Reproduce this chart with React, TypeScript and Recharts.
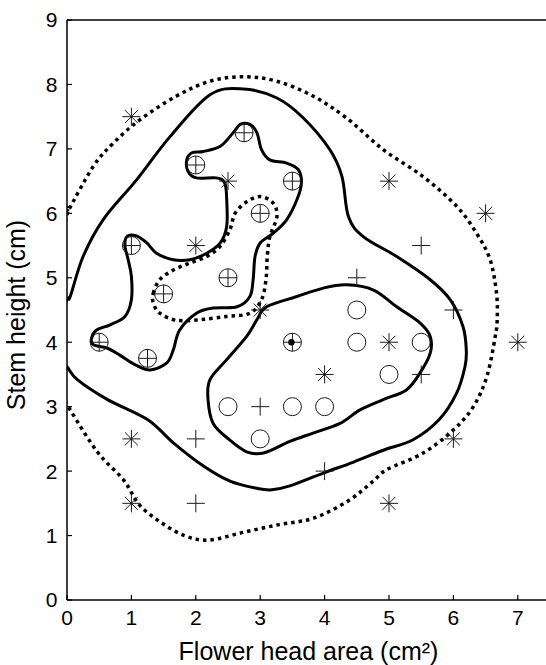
import { ComposedChart, Label, Line, Scatter, XAxis, YAxis } from "recharts";

type Pair = [number, number];

const FONT = "'Liberation Sans', Arial, Helvetica, sans-serif";
const INK = "#1a1a1a";

const xTicks = [0, 1, 2, 3, 4, 5, 6, 7];
const yTicks = [0, 1, 2, 3, 4, 5, 6, 7, 8, 9];

// samples, by marker type (flower head area, stem height)
const circlePlusPts: Pair[] = [
  [0.5, 4], [1, 5.5], [1.25, 3.75], [1.5, 4.75], [2, 6.75],
  [2.75, 7.25], [2.5, 5], [3, 6], [3.5, 6.5], [3.5, 4],
];
const circlePts: Pair[] = [
  [4.5, 4.5], [4.5, 4], [5.5, 4], [5, 3.5], [2.5, 3], [3.5, 3], [4, 3], [3, 2.5],
];
const plusPts: Pair[] = [
  [2, 2.5], [2, 1.5], [3, 3], [4, 2], [4.5, 5], [5.5, 3.5], [6, 4.5], [5.5, 5.5],
];
const starPts: Pair[] = [
  [1, 7.5], [2.5, 6.5], [5, 6.5], [6.5, 6], [2, 5.5], [3, 4.5], [7, 4],
  [5, 4], [4, 3.5], [6, 2.5], [1, 2.5], [1, 1.5], [5, 1.5],
];
const queryPts: Pair[] = [[3.5, 4]];

// contour outlines (traced); the two big ones run past the left edge and get clipped
const outerDotted: Pair[] = [
  [-0.35, 4.5], [0, 5.98], [0.03, 6.06], [0.41, 6.73], [0.72, 7.09], [1.13, 7.45],
  [1.7, 7.82], [2.22, 8.05], [2.74, 8.12], [3.26, 8.05], [3.82, 7.82], [4.34, 7.48],
  [4.91, 6.99], [5.53, 6.57], [6.05, 6.11], [6.36, 5.69], [6.57, 5.28], [6.67, 4.76],
  [6.68, 4.35], [6.65, 4.09], [6.52, 3.47], [6.31, 3.0], [6.0, 2.64], [5.53, 2.28],
  [4.96, 2.02], [4.75, 1.84], [4.37, 1.54], [3.83, 1.27], [3.29, 1.17], [2.74, 1.05],
  [2.2, 0.93], [1.82, 1.0], [1.45, 1.21], [1.12, 1.48], [0.88, 1.86], [0.47, 2.3],
  [0.03, 2.98], [-0.35, 3.6],
];
const outerSolid: Pair[] = [
  [-0.25, 4.15], [0, 4.66], [0.05, 4.71], [0.25, 5.33], [0.56, 5.9], [1.08, 6.52],
  [1.6, 7.19], [2.22, 7.84], [2.74, 7.93], [3.26, 7.79], [3.67, 7.48], [4.08, 6.99],
  [4.27, 6.57], [4.37, 5.95], [4.6, 5.64], [5.12, 5.33], [5.64, 4.97], [5.95, 4.66],
  [6.15, 4.24], [6.2, 3.88], [6.18, 3.62], [6.05, 3.21], [5.78, 2.8], [5.38, 2.49],
  [4.9, 2.32], [4.45, 2.14], [3.98, 1.97], [3.46, 1.77], [3.18, 1.71], [2.96, 1.73],
  [2.54, 1.84], [2.13, 2.07], [1.66, 2.43], [1.25, 2.8], [0.63, 3.11], [0.16, 3.42],
  [0, 3.62], [-0.25, 3.95],
];
const clusterSolid: Pair[] = [
  [0.38, 4.06], [0.46, 4.19], [0.67, 4.27], [0.9, 4.4], [1.0, 4.66], [1.0, 5.02],
  [0.95, 5.28], [0.9, 5.49], [0.93, 5.64], [1.08, 5.65], [1.24, 5.54], [1.39, 5.38],
  [1.65, 5.28], [1.91, 5.28], [2.17, 5.38], [2.38, 5.54], [2.48, 5.8], [2.48, 6.21],
  [2.45, 6.47], [2.32, 6.55], [2.01, 6.55], [1.88, 6.65], [1.86, 6.83], [1.94, 6.94],
  [2.12, 6.96], [2.38, 7.04], [2.58, 7.25], [2.69, 7.38], [2.84, 7.38], [2.95, 7.25],
  [3.02, 6.99], [3.15, 6.83], [3.41, 6.78], [3.59, 6.68], [3.64, 6.47], [3.57, 6.21],
  [3.41, 5.9], [3.2, 5.69], [3.0, 5.54], [2.92, 5.33], [2.89, 4.97], [2.84, 4.71],
  [2.64, 4.55], [2.27, 4.53], [2.01, 4.45], [1.75, 4.19], [1.65, 3.88], [1.55, 3.68],
  [1.29, 3.57], [1.06, 3.65], [0.82, 3.8], [0.62, 3.91], [0.41, 3.96],
];
const clusterDotted: Pair[] = [
  [1.34, 4.76], [1.44, 4.97], [1.65, 5.12], [1.91, 5.23], [2.17, 5.33], [2.38, 5.49],
  [2.53, 5.75], [2.61, 6.0], [2.79, 6.18], [3.0, 6.26], [3.2, 6.16], [3.26, 5.95],
  [3.15, 5.64], [3.11, 5.33], [3.09, 4.97], [3.02, 4.66], [2.84, 4.45], [2.48, 4.4],
  [2.07, 4.35], [1.7, 4.34], [1.44, 4.45], [1.34, 4.61],
];
const circleSolid: Pair[] = [
  [2.19, 3.11], [2.22, 3.42], [2.48, 3.73], [2.79, 4.09], [2.95, 4.35], [3.1, 4.55],
  [3.57, 4.71], [3.98, 4.84], [4.34, 4.89], [4.76, 4.81], [5.12, 4.55], [5.48, 4.3],
  [5.64, 4.09], [5.64, 3.83], [5.48, 3.52], [5.27, 3.26], [4.91, 3.11], [4.55, 2.95],
  [4.24, 2.74], [3.82, 2.59], [3.46, 2.46], [3.05, 2.28], [2.79, 2.3], [2.53, 2.48],
  [2.27, 2.74],
];

const toRows = (pts: Pair[]) => pts.map(([x, y]) => ({ x, y }));

// closed Catmull-Rom curve so the traced outlines pass through their points
const closedSpline = (ctx: any) => {
  let pts: number[][] = [];
  return {
    areaStart() {},
    areaEnd() {},
    lineStart() {
      pts = [];
    },
    point(x: number, y: number) {
      pts.push([+x, +y]);
    },
    lineEnd() {
      const n = pts.length;
      if (!n) return;
      ctx.moveTo(pts[0][0], pts[0][1]);
      for (let i = 0; i < n; i++) {
        const p0 = pts[(i - 1 + n) % n];
        const p1 = pts[i];
        const p2 = pts[(i + 1) % n];
        const p3 = pts[(i + 2) % n];
        ctx.bezierCurveTo(
          p1[0] + (p2[0] - p0[0]) / 6,
          p1[1] + (p2[1] - p0[1]) / 6,
          p2[0] - (p3[0] - p1[0]) / 6,
          p2[1] - (p3[1] - p1[1]) / 6,
          p2[0],
          p2[1]
        );
      }
      ctx.closePath();
    },
  };
};

const R = 9;

const CircleMark = ({ cx, cy }: any) => (
  <circle cx={cx} cy={cy} r={R} fill="none" stroke={INK} strokeWidth={1} />
);

const PlusMark = ({ cx, cy }: any) => (
  <path d={`M${cx - R},${cy}H${cx + R}M${cx},${cy - R}V${cy + R}`} stroke={INK} strokeWidth={1} fill="none" />
);

const CirclePlusMark = ({ cx, cy }: any) => (
  <g>
    <circle cx={cx} cy={cy} r={R} fill="none" stroke={INK} strokeWidth={1} />
    <path d={`M${cx - R},${cy}H${cx + R}M${cx},${cy - R}V${cy + R}`} stroke={INK} strokeWidth={1} fill="none" />
  </g>
);

const StarMark = ({ cx, cy }: any) => {
  const d = R * 0.72;
  return (
    <path
      d={`M${cx - R},${cy}H${cx + R}M${cx},${cy - R}V${cy + R}M${cx - d},${cy - d}L${cx + d},${cy + d}M${cx - d},${cy + d}L${cx + d},${cy - d}`}
      stroke={INK}
      strokeWidth={1}
      fill="none"
    />
  );
};

const QueryMark = ({ cx, cy }: any) => <circle cx={cx - 1} cy={cy} r={3.2} fill="#000" />;

const XTitle = ({ viewBox }: any) => (
  <text
    x={viewBox.x + viewBox.width / 2}
    y={viewBox.y + 60}
    textAnchor="middle"
    fontSize={25}
    fontFamily={FONT}
    fill="#000"
  >
    Flower head area (cm²)
  </text>
);

const YTitle = ({ viewBox }: any) => {
  const x = 25;
  const y = viewBox.y + viewBox.height / 2 + 5;
  return (
    <text x={x} y={y} transform={`rotate(-90 ${x} ${y})`} textAnchor="middle" fontSize={25} fontFamily={FONT} fill="#000">
      Stem height (cm)
    </text>
  );
};

const axisLine = { stroke: "#000", strokeWidth: 1.5 };
const tickLine = { stroke: "#000", strokeWidth: 1.2 };
const tickStyle = { fill: "#000", fontSize: 21, fontFamily: FONT };

export default function App() {
  const solid = { stroke: "#000", strokeWidth: 3, dot: false, activeDot: false, isAnimationActive: false };
  const dotted = { ...solid, strokeWidth: 3.5, strokeDasharray: "3.5 4" };
  return (
    <div style={{ position: "fixed", left: 0, top: 0, width: 546, height: 665, overflow: "hidden", background: "#fff" }}>
      <ComposedChart width={560} height={665} margin={{ top: 19, right: 9, bottom: 0, left: 0 }}>
        <XAxis
          xAxisId="b"
          dataKey="x"
          type="number"
          domain={[0, 7.5]}
          ticks={xTicks}
          interval={0}
          allowDataOverflow
          height={65}
          tickSize={-5}
          tickMargin={15}
          axisLine={axisLine}
          tickLine={tickLine}
          tick={tickStyle}
        >
          <Label content={<XTitle />} />
        </XAxis>
        <XAxis
          xAxisId="t"
          orientation="top"
          dataKey="x"
          type="number"
          domain={[0, 7.5]}
          ticks={xTicks}
          interval={0}
          allowDataOverflow
          height={1}
          tickSize={-5}
          tick={false}
          axisLine={axisLine}
          tickLine={tickLine}
        />
        <YAxis
          yAxisId="l"
          dataKey="y"
          type="number"
          domain={[0, 9]}
          ticks={yTicks}
          interval={0}
          allowDataOverflow
          width={67}
          tickSize={-5}
          tickMargin={14.5}
          axisLine={axisLine}
          tickLine={tickLine}
          tick={tickStyle}
        >
          <Label content={<YTitle />} />
        </YAxis>
        <YAxis
          yAxisId="r"
          orientation="right"
          dataKey="y"
          type="number"
          domain={[0, 9]}
          ticks={yTicks}
          interval={0}
          allowDataOverflow
          width={1}
          tickSize={-5}
          tick={false}
          axisLine={axisLine}
          tickLine={tickLine}
        />

        <Line xAxisId="b" yAxisId="l" data={toRows(outerDotted)} dataKey="y" type={closedSpline as any} {...dotted} />
        <Line xAxisId="b" yAxisId="l" data={toRows(outerSolid)} dataKey="y" type={closedSpline as any} {...solid} />
        <Line xAxisId="b" yAxisId="l" data={toRows(clusterSolid)} dataKey="y" type={closedSpline as any} {...solid} />
        <Line xAxisId="b" yAxisId="l" data={toRows(clusterDotted)} dataKey="y" type={closedSpline as any} {...dotted} />
        <Line xAxisId="b" yAxisId="l" data={toRows(circleSolid)} dataKey="y" type={closedSpline as any} {...solid} />

        <Scatter xAxisId="b" yAxisId="l" data={toRows(circlePlusPts)} dataKey="y" shape={<CirclePlusMark />} isAnimationActive={false} />
        <Scatter xAxisId="b" yAxisId="l" data={toRows(circlePts)} dataKey="y" shape={<CircleMark />} isAnimationActive={false} />
        <Scatter xAxisId="b" yAxisId="l" data={toRows(plusPts)} dataKey="y" shape={<PlusMark />} isAnimationActive={false} />
        <Scatter xAxisId="b" yAxisId="l" data={toRows(starPts)} dataKey="y" shape={<StarMark />} isAnimationActive={false} />
        <Scatter xAxisId="b" yAxisId="l" data={toRows(queryPts)} dataKey="y" shape={<QueryMark />} isAnimationActive={false} />
      </ComposedChart>
    </div>
  );
}
